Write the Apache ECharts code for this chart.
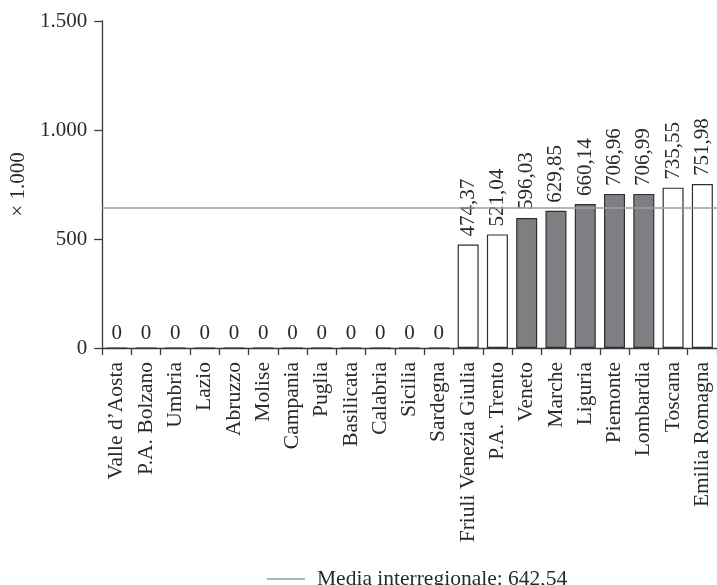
<!DOCTYPE html>
<html>
<head>
<meta charset="utf-8">
<script src="https://cdn.jsdelivr.net/npm/echarts@6/dist/echarts.min.js"></script>
<style>
  html, body { margin: 0; padding: 0; background: #ffffff; }
  #chart { width: 717px; height: 585px; }
</style>
</head>
<body>
<div id="chart"></div>
<script>
// Regions, ordered by value
const regions = [
  'Valle d’Aosta', 'P.A. Bolzano', 'Umbria', 'Lazio', 'Abruzzo', 'Molise',
  'Campania', 'Puglia', 'Basilicata', 'Calabria', 'Sicilia', 'Sardegna',
  'Friuli Venezia Giulia', 'P.A. Trento', 'Veneto', 'Marche', 'Liguria',
  'Piemonte', 'Lombardia', 'Toscana', 'Emilia Romagna'
];
// Values (× 1.000)
const values = [
  0, 0, 0, 0, 0, 0, 0, 0, 0, 0, 0, 0,
  474.37, 521.04, 596.03, 629.85, 660.14, 706.96, 706.99, 735.55, 751.98
];
// Regions drawn with the dark fill
const darkRegions = ['Veneto', 'Marche', 'Liguria', 'Piemonte', 'Lombardia'];
// Interregional mean
const meanValue = 642.54;
const meanName = 'Media interregionale: 642,54';
// Value axis ticks
const yTicks = [0, 500, 1000, 1500];

const FONT = '"Liberation Serif", "DejaVu Serif", serif';
const INK = '#2a2a2a';
const AXIS = '#3a3a3a';
const MEAN_COLOR = '#9c9c9c';

function itFormat(v) {
  if (v === 0) return '0';
  const parts = v.toFixed(2).split('.');
  return parts[0] + ',' + parts[1];
}

function thousands(v) {
  return String(v).replace(/\B(?=(\d{3})+(?!\d))/g, '.');
}

const barData = values.map((v, i) => {
  const dark = darkRegions.indexOf(regions[i]) >= 0;
  const item = {
    value: v,
    itemStyle: { color: dark ? '#7e7f82' : '#ffffff' }
  };
  if (v === 0) {
    item.label = { rotate: 0, align: 'center', verticalAlign: 'bottom', distance: 3 };
  }
  return item;
});

const chart = echarts.init(document.getElementById('chart'), null, { renderer: 'canvas' });

chart.setOption({
  animation: false,
  backgroundColor: '#ffffff',
  textStyle: { fontFamily: FONT, color: INK },
  grid: { left: 93, right: 0, top: 21, bottom: 237, containLabel: false },
  legend: {
    data: [{ name: meanName, icon: 'rect' }],
    left: 262,
    top: 563,
    itemWidth: 38,
    itemHeight: 1.5,
    itemGap: 0,
    textStyle: { fontFamily: FONT, fontSize: 21.5, color: INK, padding: [0, 0, 0, 7] }
  },
  xAxis: {
    type: 'category',
    data: regions,
    axisLine: { lineStyle: { color: AXIS, width: 1.3 } },
    axisTick: { show: true, length: 7, lineStyle: { color: AXIS, width: 1.3 } },
    axisLabel: {
      rotate: 90,
      interval: 0,
      margin: 14,
      fontFamily: FONT,
      fontSize: 21.5,
      color: INK
    }
  },
  yAxis: {
    type: 'value',
    min: yTicks[0],
    max: yTicks[yTicks.length - 1],
    interval: 500,
    name: '× 1.000',
    nameLocation: 'middle',
    nameGap: 62,
    nameRotate: 90,
    nameTextStyle: { fontFamily: FONT, fontSize: 21, color: INK },
    axisLine: { show: true, lineStyle: { color: AXIS, width: 1.3 } },
    axisTick: { show: true, length: 8, lineStyle: { color: AXIS, width: 1.3 } },
    splitLine: { show: false },
    axisLabel: {
      margin: 15,
      fontFamily: FONT,
      fontSize: 21,
      color: INK,
      formatter: thousands
    }
  },
  series: [
    {
      type: 'bar',
      data: barData,
      barWidth: 21,
      itemStyle: { borderColor: '#2f2f2f', borderWidth: 1.2 },
      label: {
        show: true,
        position: 'top',
        rotate: 90,
        align: 'left',
        verticalAlign: 'middle',
        distance: 8,
        fontFamily: FONT,
        fontSize: 21,
        color: INK,
        formatter: p => itFormat(p.value)
      },
      z: 2
    },
    {
      type: 'line',
      name: meanName,
      data: [],
      symbol: 'none',
      lineStyle: { color: MEAN_COLOR, width: 1.5 },
      itemStyle: { color: MEAN_COLOR },
      markLine: {
        silent: true,
        symbol: ['none', 'none'],
        label: { show: false },
        lineStyle: { color: MEAN_COLOR, width: 1.5, type: 'solid' },
        data: [{ yAxis: meanValue }]
      },
      z: 3
    }
  ]
});
</script>
</body>
</html>
